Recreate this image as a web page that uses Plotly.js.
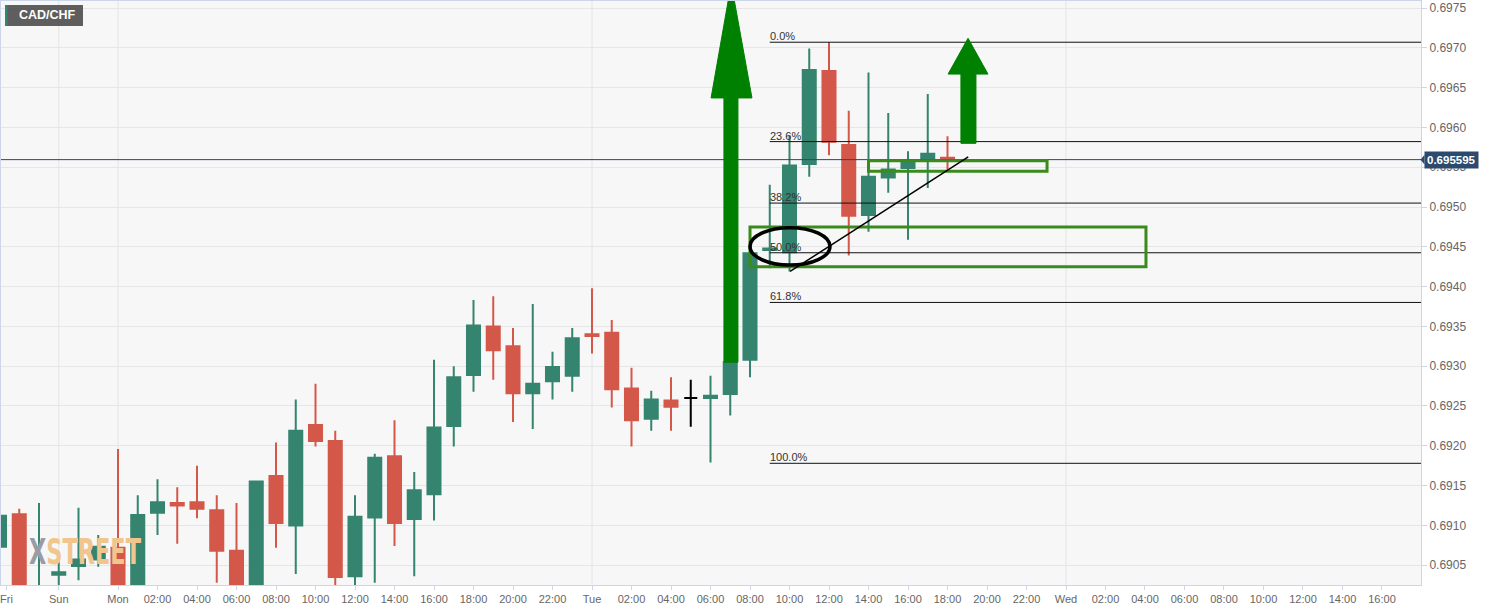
<!DOCTYPE html>
<html><head><meta charset="utf-8">
<script src="https://cdn.plot.ly/plotly-3.0.1.min.js"></script>
<style>html,body{margin:0;padding:0;background:#fff}#chart{width:1493px;height:610px}</style>
</head><body><div id="chart"></div>
<script>
// ---- data (hourly candles, hour index relative to Monday 00:00) ----
const firstHour = -6;
const openP  = [0.69073,0.69114,0.68990,0.69038,0.69049,0.69057,0.69072,0.69015,0.69116,0.69128,0.69129,0.69119,0.69068,0.69020,0.69162,0.69100,0.69226,0.69206,0.69036,0.69110,0.69187,0.69108,0.69139,0.69225,0.69289,0.69350,0.69325,0.69266,0.69281,0.69288,0.69340,0.69342,0.69272,0.69234,0.69257,0.69260,0.69260,0.69265,0.69308,0.69446,0.69443,0.69554,0.69671,0.69578,0.69490,0.69537,0.69549,0.69559,0.69562];
const highP  = [0.69124,0.69121,0.69128,0.69055,0.69122,0.69088,0.69196,0.69138,0.69158,0.69148,0.69175,0.69138,0.69128,0.69156,0.69204,0.69258,0.69278,0.69219,0.69138,0.69190,0.69232,0.69167,0.69308,0.69300,0.69383,0.69388,0.69348,0.69378,0.69318,0.69348,0.69398,0.69358,0.69298,0.69269,0.69286,0.69283,0.69288,0.69310,0.69445,0.69528,0.69590,0.69699,0.69707,0.69621,0.69669,0.69618,0.69570,0.69642,0.69589];
const lowP   = [0.69047,0.68990,0.68970,0.69020,0.69031,0.69048,0.69000,0.69000,0.69088,0.69077,0.69109,0.69028,0.69000,0.69000,0.69072,0.69039,0.69199,0.69020,0.69020,0.69028,0.69074,0.69036,0.69106,0.69199,0.69268,0.69283,0.69230,0.69221,0.69258,0.69268,0.69316,0.69248,0.69199,0.69219,0.69219,0.69224,0.69179,0.69238,0.69286,0.69423,0.69419,0.69538,0.69565,0.69439,0.69469,0.69518,0.69459,0.69524,0.69547];
const closeP = [0.69112,0.69010,0.69020,0.69041,0.69057,0.69073,0.69015,0.69113,0.69129,0.69125,0.69121,0.69068,0.69020,0.69155,0.69103,0.69219,0.69206,0.69035,0.69111,0.69185,0.69103,0.69144,0.69223,0.69286,0.69351,0.69320,0.69266,0.69278,0.69299,0.69335,0.69338,0.69271,0.69232,0.69258,0.69249,0.69260,0.69263,0.69305,0.69442,0.69448,0.69552,0.69672,0.69582,0.69489,0.69538,0.69547,0.69557,0.69567,0.695595];
const highlightHour = 29;          // black (marked) candle
const lastPrice = 0.695595;
const symbol = 'CAD/CHF';
const tickHours  = [-5.65,-3,0,2,4,6,8,10,12,14,16,18,20,22,24,26,28,30,32,34,36,38,40,42,44,46,48,50,52,54,56,58,60,62,64];
const tickLabels = ['Fri','Sun','Mon','02:00','04:00','06:00','08:00','10:00','12:00','14:00','16:00','18:00','20:00','22:00','Tue','02:00','04:00','06:00','08:00','10:00','12:00','14:00','16:00','18:00','20:00','22:00','Wed','02:00','04:00','06:00','08:00','10:00','12:00','14:00','16:00'];
const dayHours = [-3, 0, 24, 48];
const fibHigh = 0.69707, fibLow = 0.69178;
const fibLevels = [0, 23.6, 38.2, 50, 61.8, 100];
const fibLabels = ['0.0%','23.6%','38.2%','50.0%','61.8%','100.0%'];

// ---- layout geometry ----
const W = 1493, H = 610, mL = 1, mR = 72, mT = 1, mB = 25;
const xRange = [-5.924, 65.975];
const yRange = [0.690251, 0.697588];
const px = p => (p - mL) / (W - mL - mR);
const py = p => 1 - (p - mT) / (H - mT - mB);

const xs = openP.map((_, k) => k + firstHour);
const mainK = xs.map((_, k) => k).filter(k => xs[k] !== highlightHour);
const hiK = xs.map((_, k) => k).filter(k => xs[k] === highlightHour);
const pick = (a, ks) => ks.map(k => a[k]);

const GREEN = '#35846f', RED = '#d4584a';
const traces = [
  {type:'candlestick', x:pick(xs,mainK), open:pick(openP,mainK), high:pick(highP,mainK), low:pick(lowP,mainK), close:pick(closeP,mainK),
   increasing:{line:{color:GREEN,width:2}, fillcolor:GREEN},
   decreasing:{line:{color:RED,width:2}, fillcolor:RED},
   whiskerwidth:0, hoverinfo:'skip', showlegend:false},
  {type:'candlestick', x:pick(xs,hiK), open:pick(openP,hiK), high:pick(highP,hiK), low:pick(lowP,hiK), close:pick(closeP,hiK),
   increasing:{line:{color:'#000',width:2}, fillcolor:'#000'},
   decreasing:{line:{color:'#000',width:2}, fillcolor:'#000'},
   whiskerwidth:0, hoverinfo:'skip', showlegend:false}
];

const shapes = [];
dayHours.forEach(h => shapes.push({type:'line', xref:'x', yref:'paper', x0:h, x1:h, y0:0, y1:1, layer:'below', line:{color:'#e4e4e4', width:1}}));
shapes.push({type:'line', xref:'paper', yref:'y', x0:0, x1:1, y0:lastPrice, y1:lastPrice, line:{color:'#27466b', width:1}});
const fibStart = 33;
const fibVal = l => fibHigh - (fibHigh - fibLow) * l / 100;
fibLevels.forEach(l => shapes.push({type:'line', xref:'x', yref:'y', x0:fibStart, x1:xRange[1], y0:fibVal(l), y1:fibVal(l), line:{color:'#111', width:1}}));
// zones
shapes.push({type:'rect', xref:'x', yref:'y', x0:32.0, x1:52.05, y0:0.69425, y1:0.69475, line:{color:'#3a8a1c', width:3}, fillcolor:'rgba(0,0,0,0)'});
shapes.push({type:'rect', xref:'x', yref:'y', x0:38.0, x1:47.04, y0:0.69545, y1:0.69558, line:{color:'#3a8a1c', width:3}, fillcolor:'rgba(0,0,0,0)'});
// ellipse & trendline
shapes.push({type:'circle', xref:'x', yref:'y', x0:32.0, x1:36.05, y0:0.69427, y1:0.69474, line:{color:'#000', width:3.5}});
shapes.push({type:'line', xref:'x', yref:'y', x0:34.03, y0:0.69419, x1:43.05, y1:0.69563, line:{color:'#000', width:1.5}});
// arrows
function arrow(s0, s1, h0, h1, tip, yb, yh, yt) {
  return {type:'path', xref:'x', yref:'y', fillcolor:'rgb(0,128,0)', line:{color:'rgb(0,128,0)', width:1},
    path:`M ${s0},${yb} L ${s1},${yb} L ${s1},${yh} L ${h1},${yh} L ${tip},${yt} L ${h0},${yh} L ${s0},${yh} Z`};
}
shapes.push(arrow(30.68, 31.39, 30.03, 32.10, 31.05, 0.69305, 0.69637, 0.69781));
shapes.push(arrow(42.68, 43.44, 42.03, 44.05, 43.04, 0.69580, 0.69667, 0.69712));
// symbol box
shapes.push({type:'rect', xref:'paper', yref:'paper', x0:px(5), x1:px(83), y0:py(26), y1:py(5), fillcolor:'rgba(80,80,80,0.92)', line:{width:0}});
shapes.push({type:'rect', xref:'paper', yref:'paper', x0:px(5), x1:px(7.5), y0:py(26), y1:py(5), fillcolor:'#35846f', line:{width:0}});
// price label pointer
shapes.push({type:'path', xref:'paper', yref:'y', fillcolor:'#2c4a6e', line:{width:0},
  path:`M ${px(1420.5)},${lastPrice} L ${px(1424.5)},${lastPrice + 0.00006} L ${px(1424.5)},${lastPrice - 0.00006} Z`});

const annotations = [];
fibLevels.forEach((l, k) => annotations.push({xref:'x', yref:'y', x:fibStart, y:fibVal(l), xanchor:'left', yanchor:'bottom', text:fibLabels[k], showarrow:false, borderpad:0, xshift:-1, yshift:-1, font:{size:11, color:'#333'}}));
annotations.push({xref:'paper', yref:'paper', x:px(17), y:py(15.5), xanchor:'left', yanchor:'middle', text:'<b>'+symbol+'</b>', showarrow:false, font:{size:12.5, color:'#fff'}});
annotations.push({xref:'paper', yref:'y', x:1, y:lastPrice, xanchor:'left', yanchor:'middle', xshift:3, text:'<b>'+lastPrice.toFixed(6)+'</b>', showarrow:false, bgcolor:'#2c4a6e', borderpad:2, font:{size:11.5, color:'#fff'}});
annotations.push({xref:'paper', yref:'paper', x:px(27), y:py(551), xanchor:'left', yanchor:'middle', showarrow:false,
  text:'<b><span style="color:#9b9ba3">X</span><span style="color:#f1c68e">STREET</span></b>',
  font:{family:'DejaVu Sans Condensed, DejaVu Sans, sans-serif', size:36}});

const layout = {
  width:W, height:H, margin:{l:mL, r:mR, t:mT, b:mB, pad:0},
  paper_bgcolor:'#fff', plot_bgcolor:'#f7f7f7',
  font:{family:'Liberation Sans, Arial, sans-serif', size:11, color:'#666'},
  showlegend:false, boxgap:0.34, boxgroupgap:0,
  xaxis:{type:'linear', range:xRange, rangeslider:{visible:false}, showgrid:false, zeroline:false,
    tickmode:'array', tickvals:tickHours, ticktext:tickLabels, ticks:'outside', ticklen:4, tickcolor:'#ccd6eb',
    ticklabeloverflow:'allow', showline:true, linecolor:'#ccd6eb', mirror:true, tickfont:{size:11, color:'#666'}},
  yaxis:{side:'right', range:yRange, dtick:0.0005, tick0:0.6905, tickformat:'.4f', ticks:'outside', ticklen:5, tickcolor:'#ccd6eb',
    gridcolor:'#e6e6e6', showline:true, linecolor:'#ccd6eb', mirror:true, zeroline:false, tickfont:{size:12, color:'#666'}},
  shapes, annotations
};
Plotly.newPlot('chart', traces, layout, {staticPlot:true, displayModeBar:false}).then(gd => {
  try {
    const anns = gd.querySelectorAll('.infolayer .annotation');
    const wm = anns[anns.length - 1];
    const txt = wm.querySelector('text');
    const bb = txt.getBBox();
    const target = 112;
    if (bb.width > 0) {
      txt.style.transformBox = 'fill-box';
      txt.style.transformOrigin = '0% 50%';
      txt.style.transform = 'scaleX(' + Math.min(1, target / bb.width) + ')';
    }
    const sub = gd.querySelector('.cartesianlayer .subplot.xy');
    const plotG = sub && sub.querySelector(':scope > .plot');
    if (sub && plotG) sub.insertBefore(wm, plotG);
  } catch (e) {}
});
</script></body></html>
